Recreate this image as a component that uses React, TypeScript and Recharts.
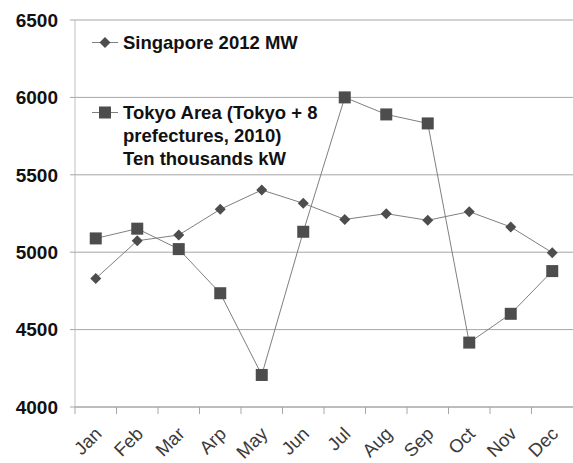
import React from "react";
import { LineChart, Line, XAxis, YAxis, CartesianGrid } from "recharts";

const months = ["Jan", "Feb", "Mar", "Arp", "May", "Jun", "Jul", "Aug", "Sep", "Oct", "Nov", "Dec"];
const singapore = [4830, 5074, 5111, 5277, 5402, 5316, 5212, 5249, 5206, 5262, 5163, 4997];
const tokyo = [5089, 5152, 5020, 4735, 4207, 5132, 6000, 5890, 5832, 4416, 4602, 4878];
const yTicks = [4000, 4500, 5000, 5500, 6000, 6500];

const seriesNames = ["Singapore 2012 MW", "Tokyo Area (Tokyo + 8\nprefectures, 2010)\nTen thousands kW"];

const data = months.map((m, i) => ({ month: m, sg: singapore[i], tk: tokyo[i] }));

const FONT = "'Liberation Sans', Arial, sans-serif";
const LINE = "#7f7f7f";
const MARK = "#4d4d4d";
const BAND = 498 / 12;

const Diamond = (props: any) => {
  const { cx, cy } = props;
  if (cx == null || cy == null) return null;
  const r = 5.5;
  return <path d={`M${cx},${cy - r}L${cx + r},${cy}L${cx},${cy + r}L${cx - r},${cy}Z`} fill={MARK} />;
};

const Square = (props: any) => {
  const { cx, cy } = props;
  if (cx == null || cy == null) return null;
  const s = 6;
  return <rect x={cx - s} y={cy - s} width={2 * s} height={2 * s} fill={MARK} />;
};

const XTick = (props: any) => {
  const { x, y, payload } = props;
  const half = BAND / 2;
  const tx = x + 7;
  const ty = y + 28;
  return (
    <g>
      <line x1={x - half} y1={y} x2={x - half} y2={y + 7} stroke="#a6a6a6" strokeWidth={1} />
      <text
        x={tx}
        y={ty}
        transform={`rotate(-45, ${tx}, ${ty})`}
        textAnchor="end"
        fontFamily={FONT}
        fontSize={18.5}
        fill="#3a3a3a"
      >
        {payload.value}
      </text>
    </g>
  );
};

const LegendBox = () => (
  <div
    style={{
      position: "absolute",
      left: 92,
      top: 31,
      fontFamily: FONT,
      fontWeight: "bold",
      fontSize: 18.5,
      color: "#111",
      lineHeight: "23px",
    }}
  >
    <div style={{ display: "flex", alignItems: "flex-start" }}>
      <svg width={31} height={23} style={{ flex: "none" }}>
        <line x1={0} y1={11.5} x2={26} y2={11.5} stroke={LINE} strokeWidth={1} />
        <Diamond cx={13} cy={11.5} />
      </svg>
      <span>{seriesNames[0]}</span>
    </div>
    <div style={{ display: "flex", alignItems: "flex-start", marginTop: 47 }}>
      <svg width={31} height={23} style={{ flex: "none" }}>
        <line x1={0} y1={11.5} x2={26} y2={11.5} stroke={LINE} strokeWidth={1} />
        <Square cx={13} cy={11.5} />
      </svg>
      <span style={{ whiteSpace: "pre" }}>{seriesNames[1]}</span>
    </div>
  </div>
);

export default function App() {
  return (
    <div style={{ position: "absolute", left: 0, top: 0, width: 573, height: 463, background: "#fff" }}>
      <LineChart width={573} height={463} data={data} margin={{ top: 20, right: 0, bottom: 0, left: 0 }}>
        <CartesianGrid vertical={false} stroke="#a6a6a6" strokeWidth={1} />
        <XAxis
          dataKey="month"
          tick={<XTick />}
          tickLine={false}
          tickSize={0}
          tickMargin={0}
          axisLine={{ stroke: "#a6a6a6" }}
          interval={0}
          height={56}
          padding={{ left: BAND / 2, right: BAND / 2 }}
        />
        <YAxis
          domain={[4000, 6500]}
          ticks={yTicks}
          width={75}
          tickSize={5}
          tickMargin={12}
          tickLine={{ stroke: "#a6a6a6" }}
          axisLine={{ stroke: "#bfbfbf" }}
          tick={{ fontFamily: FONT, fontSize: 19, fontWeight: "bold", fill: "#111" }}
        />
        <Line
          dataKey="sg"
          name={seriesNames[0]}
          stroke={LINE}
          strokeWidth={1}
          dot={<Diamond />}
          isAnimationActive={false}
        />
        <Line
          dataKey="tk"
          name={seriesNames[1]}
          stroke={LINE}
          strokeWidth={1}
          dot={<Square />}
          isAnimationActive={false}
        />
      </LineChart>
      <LegendBox />
    </div>
  );
}
